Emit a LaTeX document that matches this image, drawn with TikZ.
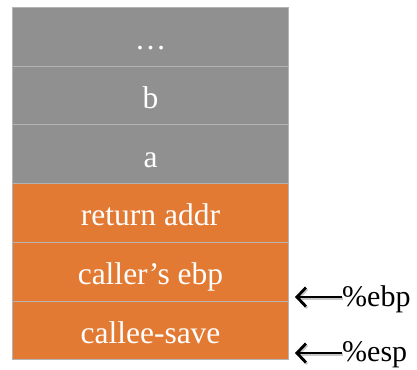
\documentclass[tikz,border=0pt]{standalone}
\usepackage{fontspec}
\setmainfont{Liberation Serif}
\usetikzlibrary{arrows.meta}
\definecolor{slotgray}{HTML}{8F908F}
\definecolor{slotorange}{HTML}{E27A33}
\definecolor{slotline}{HTML}{B4B4B4}
\tikzset{
  x=1pt, y=-1pt,
  slot/.style={draw=slotline, line width=1pt, minimum width=276pt, minimum height=58.7pt,
    inner sep=0pt, text height=30pt, text depth=4.5pt, anchor=north west, text=white,
    font=\fontsize{31.5}{34}\selectfont},
  graycell/.style={slot, fill=slotgray},
  orangecell/.style={slot, fill=slotorange},
  regptr/.style={line width=2.8pt, -{Straight Barb[length=9pt, width=19pt, line width=2.8pt]}},
  regshadow/.style={regptr, draw=black!22},
  reglabel/.style={anchor=west, inner sep=0pt, font=\fontsize{30}{32}\selectfont}
}
\begin{document}
\begin{tikzpicture}
\useasboundingbox (0,0) rectangle (417,369);
% stack slots, top to bottom
\node[graycell]   (dots)   at (12,7)     {\ldots};
\node[graycell]   (b)      at (12,65.7)  {b};
\node[graycell]   (a)      at (12,124.4) {a};
\node[orangecell] (ret)    at (12,183.1) {return addr};
\node[orangecell] (oldebp) at (12,241.8) {caller’s ebp};
\node[orangecell] (save)   at (12,300.5) {callee-save};
% register pointers
\node[reglabel] (ebp) at (342,299) {\%ebp};
\node[reglabel] (esp) at (342,355) {\%esp};
\coordinate (ebptip) at (295,297);
\coordinate (esptip) at (295,353);
\draw[regshadow] ([shift={(1.2,1.5)}]ebp.west |- ebptip) -- ([shift={(1.2,1.5)}]ebptip);
\draw[regshadow] ([shift={(1.2,1.5)}]esp.west |- esptip) -- ([shift={(1.2,1.5)}]esptip);
\draw[regptr] (ebp.west |- ebptip) -- (ebptip);
\draw[regptr] (esp.west |- esptip) -- (esptip);
\end{tikzpicture}
\end{document}
